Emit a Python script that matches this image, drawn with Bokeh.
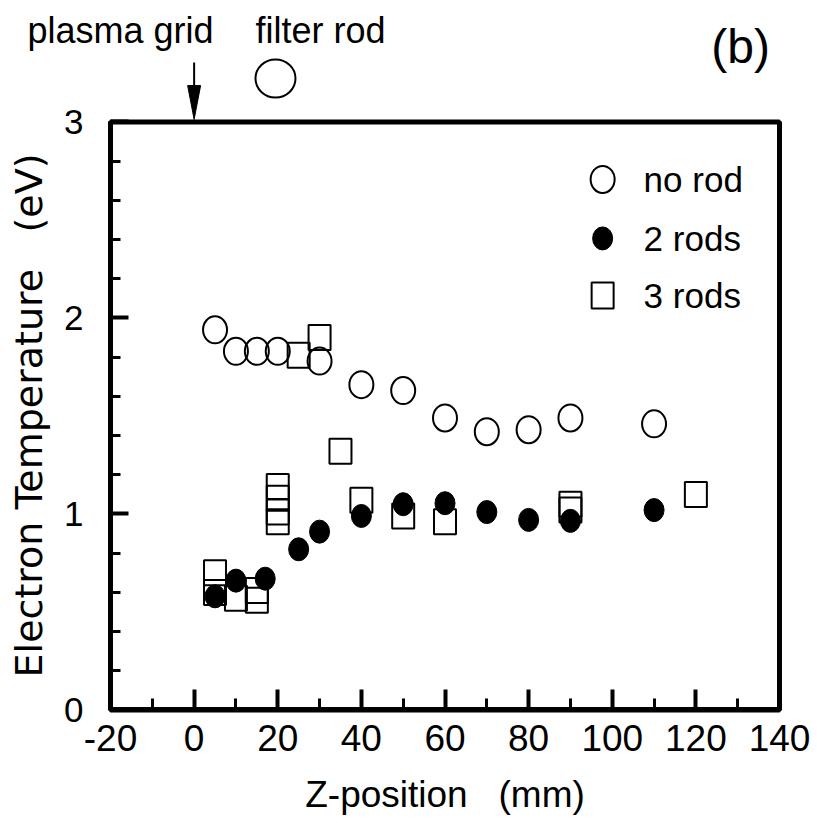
from bokeh.plotting import figure
from bokeh.models import SingleIntervalTicker, Range1d, LinearAxis, BoxAnnotation
from bokeh.core.properties import value
from bokeh.embed import file_html
from bokeh.resources import INLINE

# ---- data ----
x_norod = [5, 10, 15, 20, 30, 40, 50, 60, 70, 80, 90, 110]
t_norod = [1.94, 1.83, 1.83, 1.83, 1.78, 1.66, 1.63, 1.49, 1.42, 1.43, 1.49, 1.46]

x_2rods = [5, 10, 17, 25, 30, 40, 50, 60, 70, 80, 90, 110]
t_2rods = [0.58, 0.66, 0.67, 0.82, 0.91, 0.99, 1.05, 1.055, 1.01, 0.97, 0.965, 1.02]

x_3rods = [5, 5, 10, 15, 15, 20, 20, 20, 20, 25, 30, 35, 40, 50, 60, 90, 90, 120]
t_3rods = [0.70, 0.60, 0.57, 0.61, 0.56, 1.14, 1.08, 1.01, 0.96, 1.81, 1.90, 1.32,
           1.07, 0.99, 0.96, 1.05, 1.02, 1.10]

legend_labels = ["no rod", "2 rods", "3 rods"]
top_labels = ["plasma grid", "filter rod"]

X_MIN, X_MAX = -20, 140
Y_MIN, Y_MAX = 0, 3

NB = "\u00a0"
HELV = "Liberation Sans"

# The frame fills the whole canvas; the axes sit at fixed data locations so that the
# texts above the plot box (plasma grid / filter rod / (b)) can be drawn as glyphs.
p = figure(width=817, height=823,
           x_range=Range1d(-46.308, 149.088), y_range=Range1d(-0.5791, 3.6199),
           output_backend="svg", toolbar_location=None,
           x_axis_location=None, y_axis_location=None,
           min_border=0, min_border_left=0, min_border_right=0,
           min_border_top=0, min_border_bottom=0)
p.background_fill_color = "white"
p.border_fill_color = "white"
p.outline_line_color = None
p.xgrid.visible = False
p.ygrid.visible = False

xa = LinearAxis(fixed_location=Y_MIN, bounds=(X_MIN, X_MAX))
xa.ticker = SingleIntervalTicker(interval=20, num_minor_ticks=2)
xa.major_label_overrides = {-20: "-20"}
xa.axis_line_width = 5
xa.major_tick_in = 20
xa.major_tick_out = 0
xa.minor_tick_in = 11
xa.minor_tick_out = 0
xa.major_tick_line_width = 4
xa.minor_tick_line_width = 3
xa.major_label_text_font = HELV
xa.major_label_text_font_size = "37px"
xa.major_label_text_color = "black"
xa.major_label_standoff = 15
xa.axis_label = "Z-position" + NB * 3 + "(mm)"
xa.axis_label_text_font = HELV
xa.axis_label_text_font_size = "37px"
xa.axis_label_text_font_style = "normal"
xa.axis_label_text_color = "black"
xa.axis_label_standoff = 20
p.add_layout(xa, "below")

ya = LinearAxis(fixed_location=X_MIN, bounds=(Y_MIN, Y_MAX))
ya.ticker = SingleIntervalTicker(interval=1, num_minor_ticks=5)
ya.axis_line_width = 5
ya.major_tick_in = 18
ya.major_tick_out = 0
ya.minor_tick_in = 10
ya.minor_tick_out = 0
ya.major_tick_line_width = 4
ya.minor_tick_line_width = 3
ya.major_label_text_font = HELV
ya.major_label_text_font_size = "35px"
ya.major_label_text_color = "black"
ya.major_label_standoff = 27
ya.axis_label = "Electron" + NB + "Temperature" + NB * 3 + "(eV)"
ya.axis_label_text_font = "DejaVu Sans"
ya.axis_label_text_font_size = "38px"
ya.axis_label_text_font_style = "normal"
ya.axis_label_text_color = "black"
ya.axis_label_standoff = 10
p.add_layout(ya, "left")

# plot box
p.add_layout(BoxAnnotation(left=X_MIN, right=X_MAX, bottom=Y_MIN, top=Y_MAX,
                           fill_alpha=0, line_color="black", line_width=5, line_alpha=1))

# data marks
p.rect(x=x_3rods, y=t_3rods, width=22, height=25, width_units="screen", height_units="screen",
       fill_color=None, line_color="black", line_width=2)
p.ellipse(x=x_norod, y=t_norod, width=24, height=27, width_units="screen", height_units="screen",
          fill_color=None, line_color="black", line_width=2)
p.ellipse(x=x_2rods, y=t_2rods, width=20, height=23, width_units="screen", height_units="screen",
          fill_color="black", line_color="black", line_width=1)

# legend (upper right inside the box)
lx, tx = 97.7, 107.5
ly = [2.707, 2.406, 2.115]
p.ellipse(x=[lx], y=[ly[0]], width=24, height=27, width_units="screen", height_units="screen",
          fill_color=None, line_color="black", line_width=2)
p.ellipse(x=[lx], y=[ly[1]], width=20, height=23, width_units="screen", height_units="screen",
          fill_color="black", line_color="black", line_width=1)
p.rect(x=[lx], y=[ly[2]], width=22, height=26, width_units="screen", height_units="screen",
       fill_color=None, line_color="black", line_width=2)
p.text(x=[tx] * 3, y=ly, text=legend_labels, text_font=value(HELV), text_font_size="35px",
       text_baseline="middle", text_align="left", text_color="black")

# annotations above the plot box
p.text(x=[-17.6, 30.2], y=[3.465, 3.465], text=top_labels, text_font=value(HELV),
       text_font_size="36px", text_align="center", text_baseline="middle", text_color="black")
p.text(x=[130.7], y=[3.385], text=["(b)"], text_font=value(HELV), text_font_size="48px",
       text_align="center", text_baseline="middle", text_color="black")
# arrow pointing at the plasma grid (x = 0)
p.segment(x0=[0], y0=[3.304], x1=[0], y1=[3.161], line_color="black", line_width=2)
p.patch(x=[-1.55, 1.55, 0], y=[3.186, 3.186, 3.013], fill_color="black", line_color="black",
        line_width=1)
# filter rod cross-section
p.ellipse(x=[19.46], y=[3.222], width=40, height=38, width_units="screen", height_units="screen",
          fill_color=None, line_color="black", line_width=2)

open("out.html", "w").write(file_html(p, INLINE))
